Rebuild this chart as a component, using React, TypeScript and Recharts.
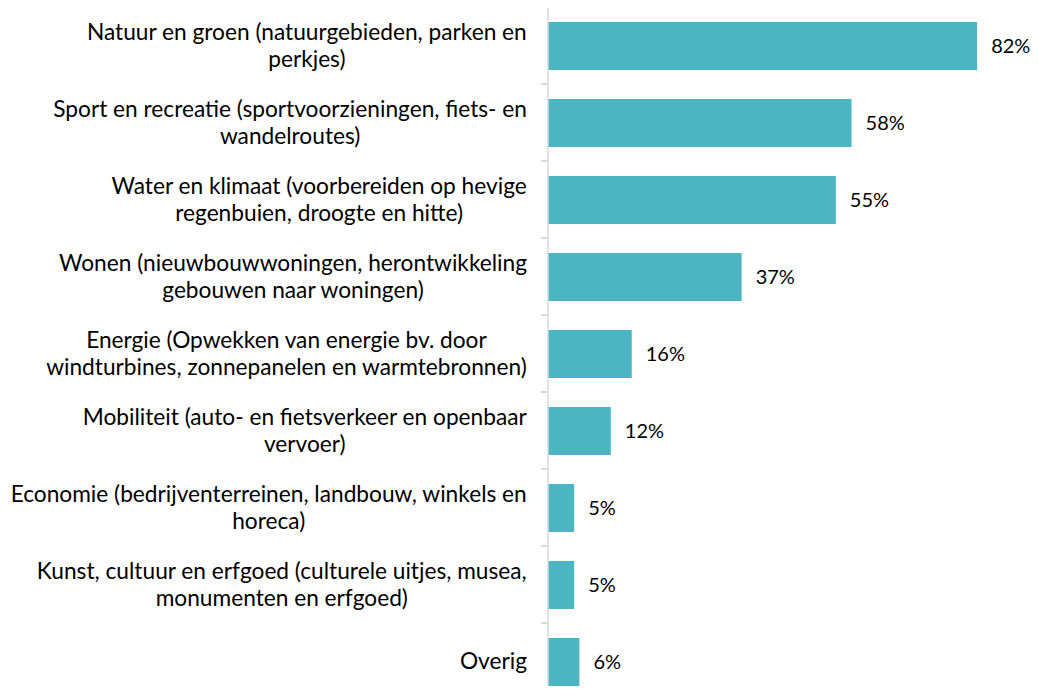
import { BarChart, Bar, XAxis, YAxis, LabelList } from "recharts";

const categories = [
  "Natuur en groen (natuurgebieden, parken en\nperkjes)",
  "Sport en recreatie (sportvoorzieningen, fiets- en\nwandelroutes)",
  "Water en klimaat (voorbereiden op hevige\nregenbuien, droogte en hitte)",
  "Wonen (nieuwbouwwoningen, herontwikkeling\ngebouwen naar woningen)",
  "Energie (Opwekken van energie bv. door\nwindturbines, zonnepanelen en warmtebronnen)",
  "Mobiliteit (auto- en fietsverkeer en openbaar\nvervoer)",
  "Economie (bedrijventerreinen, landbouw, winkels en\nhoreca)",
  "Kunst, cultuur en erfgoed (culturele uitjes, musea,\nmonumenten en erfgoed)",
  "Overig"
];

const percentages = [82, 58, 55, 37, 16, 12, 5, 5, 6];

const data = categories.map((name, i) => ({ name, value: percentages[i] }));

const FONT = "Lato, 'Open Sans', sans-serif";
const LABEL_SIZE = 22.7;
const VALUE_SIZE = 20;
const LINE_GAP = 27;
const BAR_COLOR = "#4BB5C4";
const AXIS_COLOR = "#D9D9D9";

const CHART_W = 1038;
const CHART_H = 700;
const TOP = 7;
const BAND = (CHART_H - TOP) / categories.length;

let ctx: CanvasRenderingContext2D | null = null;
function textWidth(s: string) {
  if (!ctx) {
    ctx = document.createElement("canvas").getContext("2d");
  }
  if (!ctx) return s.length * LABEL_SIZE * 0.5;
  ctx.font = `${LABEL_SIZE}px ${FONT}`;
  return ctx.measureText(s).width;
}

function CategoryTick(props: any) {
  const { x, y, payload } = props;
  const lines: string[] = String(payload.value).split("\n");
  const widest = Math.max(...lines.map(textWidth));
  const right = x - 13;
  const cx = right - widest / 2;
  return (
    <g>
      {/* Excel-style tick marks on the band edges */}
      <line x1={x + 1} x2={x + 8} y1={y - BAND / 2} y2={y - BAND / 2} stroke={AXIS_COLOR} strokeWidth={1.5} />
      <line x1={x + 1} x2={x + 8} y1={y + BAND / 2} y2={y + BAND / 2} stroke={AXIS_COLOR} strokeWidth={1.5} />
      {lines.map((ln, i) => (
        <text
          key={i}
          x={cx}
          y={y + (i - (lines.length - 1) / 2) * LINE_GAP + 7.5}
          textAnchor="middle"
          fontFamily={FONT}
          fontSize={LABEL_SIZE}
          fill="#000"
        >
          {ln}
        </text>
      ))}
    </g>
  );
}

export default function App() {
  return (
    <div style={{ margin: -8, width: CHART_W, height: 694, overflow: "hidden", background: "#fff" }}>
      <BarChart
        width={CHART_W}
        height={CHART_H}
        data={data}
        layout="vertical"
        margin={{ top: TOP, right: 19, bottom: 0, left: 0 }}
        barCategoryGap={0}
      >
        <XAxis type="number" domain={[0, 90]} hide />
        <YAxis
          type="category"
          dataKey="name"
          width={548}
          interval={0}
          tickLine={false}
          axisLine={{ stroke: AXIS_COLOR, strokeWidth: 1.5 }}
          tick={<CategoryTick />}
        />
        <Bar dataKey="value" fill={BAR_COLOR} barSize={48} isAnimationActive={false}>
          <LabelList
            dataKey="value"
            position="right"
            offset={14}
            formatter={(v: any) => `${v}%`}
            style={{ fontFamily: FONT, fontSize: VALUE_SIZE, fill: "#000" }}
          />
        </Bar>
      </BarChart>
    </div>
  );
}
